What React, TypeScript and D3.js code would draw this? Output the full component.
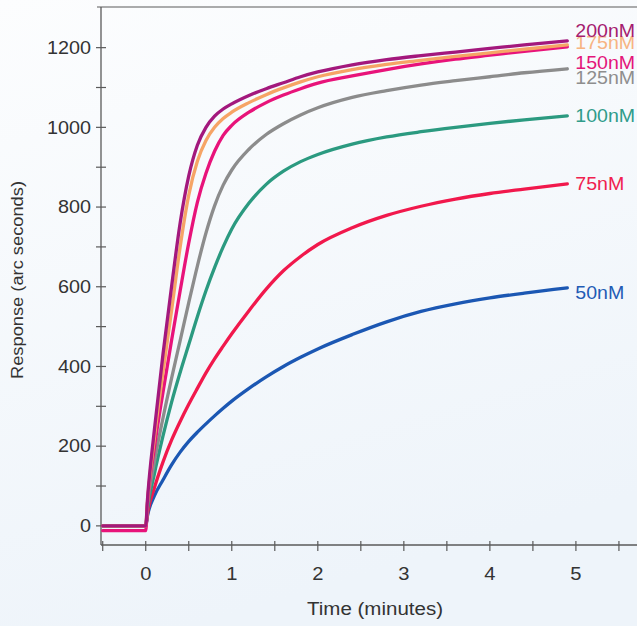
import React from "react";
import * as d3 from "d3";

const times = [-0.5, 0, 0.02, 0.1, 0.2, 0.3, 0.4, 0.5, 0.6, 0.7, 0.8, 0.9, 1.0, 1.2, 1.4, 1.6, 1.8, 2.0, 2.4, 2.8, 3.2, 3.6, 4.0, 4.4, 4.9];

const r50 = [0, 0, 25, 75, 115, 153, 185, 212, 235, 256, 276, 295, 313, 345, 374, 400, 423, 444, 480, 512, 538, 557, 572, 584, 597];
const r75 = [0, 0, 30, 95, 160, 215, 262, 305, 345, 384, 419, 451, 482, 540, 594, 640, 676, 706, 748, 779, 802, 820, 834, 845, 858];
const r100 = [0, 0, 40, 130, 225, 310, 385, 455, 525, 590, 648, 700, 745, 810, 857, 890, 914, 932, 958, 976, 989, 1000, 1010, 1019, 1029];
const r125 = [0, 0, 50, 160, 270, 370, 465, 560, 652, 735, 803, 855, 893, 945, 982, 1009, 1031, 1049, 1075, 1092, 1106, 1117, 1127, 1137, 1147];
const r150 = [-12, -12, 55, 195, 335, 465, 590, 710, 812, 885, 940, 980, 1005, 1038, 1062, 1081, 1097, 1111, 1129, 1145, 1159, 1171, 1181, 1191, 1202];
const r175 = [0, 0, 60, 220, 385, 540, 700, 830, 915, 967, 1000, 1022, 1038, 1062, 1082, 1099, 1114, 1127, 1145, 1158, 1168, 1178, 1187, 1196, 1207];
const r200 = [0, 0, 65, 240, 430, 600, 760, 878, 955, 1000, 1028, 1046, 1059, 1080, 1097, 1112, 1127, 1139, 1157, 1170, 1180, 1189, 1198, 1207, 1217];

const seriesLabels = ["50nM", "75nM", "100nM", "125nM", "150nM", "175nM", "200nM"];
const seriesValues = [r50, r75, r100, r125, r150, r175, r200];

const xTicks = [0, 1, 2, 3, 4, 5];
const xMinorTicks = [-0.5, 0.5, 1.5, 2.5, 3.5, 4.5, 5.5];
const yTicks = [0, 200, 400, 600, 800, 1000, 1200];
const yMinorTicks = [100, 300, 500, 700, 900, 1100];

const xTitle = "Time (minutes)";
const yTitle = "Response (arc seconds)";

// styling (not data)
const colors = ["#1b57b3", "#f1184c", "#2b9a80", "#8c8c8c", "#e8137a", "#f6a466", "#a3187d"];
const labelColors = ["#1f5bb5", "#f0214f", "#2f9c8a", "#8e8e8e", "#e4167a", "#f7b482", "#a51c70"];
const labelDy = [5, 0, 0, 9, 16, -2, -10];

const W = 637;
const H = 626;
const FONT = "'Liberation Sans', Arial, Helvetica, sans-serif";
const AXIS = "#5a5a5a";

export default function App() {
  const x = d3.scaleLinear().domain([-0.52, 5.71]).range([101, 637]);
  const y = d3.scaleLinear().domain([-48, 1302]).range([545, 7]);

  const line = d3
    .line<number>()
    .x((_, i) => x(times[i]))
    .y((d) => y(d))
    .curve(d3.curveMonotoneX);

  const x0 = x.range()[0];
  const y0 = y.range()[0];
  const yTop = y.range()[1];
  const lastT = times[times.length - 1];

  return (
    <svg
      width={W}
      height={H}
      style={{ position: "absolute", left: 0, top: 0, display: "block" }}
      fontFamily={FONT}
    >
      <defs>
        <linearGradient id="bg" x1="0" y1="0" x2="0.3" y2="1">
          <stop offset="0" stopColor="#fcfdfe" />
          <stop offset="1" stopColor="#eef4fa" />
        </linearGradient>
      </defs>
      <rect x={0} y={0} width={W} height={H} fill="url(#bg)" />

      {/* frame */}
      <line x1={x0 - 4} x2={W} y1={yTop} y2={yTop} stroke={AXIS} strokeWidth={1.2} />
      <line x1={x0} x2={x0} y1={yTop} y2={y0} stroke={AXIS} strokeWidth={1.3} />
      <line x1={x0} x2={W} y1={y0} y2={y0} stroke={AXIS} strokeWidth={1.3} />

      {/* y ticks */}
      {yTicks.concat(yMinorTicks).map((v) => (
        <line key={"yt" + v} x1={x0 - 5} x2={x0 + 5} y1={y(v)} y2={y(v)} stroke={AXIS} strokeWidth={1.2} />
      ))}
      {yTicks.map((v) => (
        <g key={"yl" + v} transform={`translate(91,${y(v)}) scale(1.1,1)`}>
          <text textAnchor="end" dominantBaseline="central" fontSize={18} fill="#333">
            {v}
          </text>
        </g>
      ))}

      {/* x ticks */}
      {xTicks.concat(xMinorTicks).map((v) => (
        <line key={"xt" + v} x1={x(v)} x2={x(v)} y1={y0 - 4} y2={y0 + 6} stroke={AXIS} strokeWidth={1.2} />
      ))}
      {xTicks.map((v) => (
        <g key={"xl" + v} transform={`translate(${x(v)},580) scale(1.12,1)`}>
          <text textAnchor="middle" fontSize={18} fill="#333">
            {v}
          </text>
        </g>
      ))}

      {/* titles */}
      <text x={375} y={615} textAnchor="middle" fontSize={18} fill="#333" textLength={136} lengthAdjust="spacingAndGlyphs">
        {xTitle}
      </text>
      <text
        transform="translate(23,280) rotate(-90)"
        textAnchor="middle"
        fontSize={16}
        fill="#333"
        textLength={198}
        lengthAdjust="spacingAndGlyphs"
      >
        {yTitle}
      </text>

      {/* series */}
      {seriesValues.map((vals, i) => (
        <path
          key={"s" + i}
          d={line(vals) || ""}
          fill="none"
          stroke={colors[i]}
          strokeWidth={3.3}
          strokeLinejoin="round"
          strokeLinecap="round"
        />
      ))}

      {/* labels */}
      {seriesValues.map((vals, i) => (
        <g
          key={"lab" + i}
          transform={`translate(${x(lastT) + 8},${y(vals[vals.length - 1]) + labelDy[i]}) scale(1.12,1)`}
        >
          <text dominantBaseline="central" fontSize={17.5} fill={labelColors[i]}>
            {seriesLabels[i]}
          </text>
        </g>
      ))}
    </svg>
  );
}
